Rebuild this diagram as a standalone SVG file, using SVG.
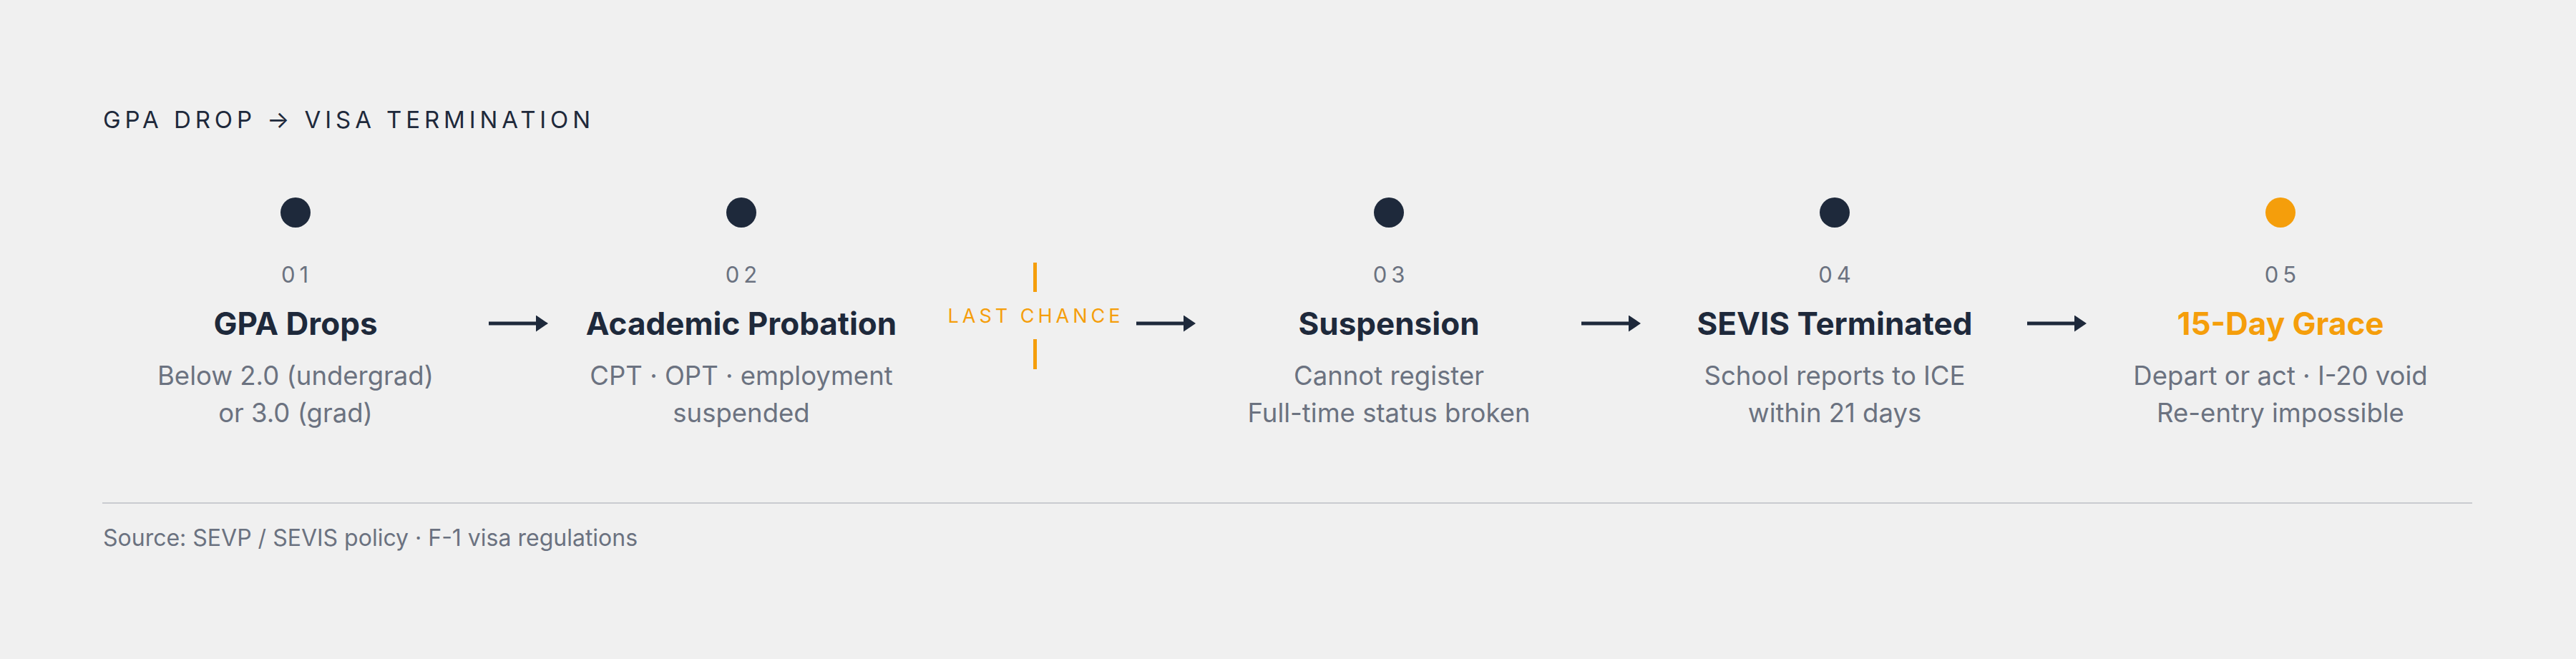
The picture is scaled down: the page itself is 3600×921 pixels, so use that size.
<svg xmlns="http://www.w3.org/2000/svg" width="3600" height="921" viewBox="0 0 3600 921">
  <defs>
    <style>
      text { font-family: "Inter", "Liberation Sans", sans-serif; }
      .heading { font-size: 33px; fill: #1e293b; letter-spacing: 5.9px; }
      .num { font-size: 31px; fill: #6b7280; letter-spacing: 6px; text-anchor: middle; }
      .title { font-size: 44px; font-weight: 700; fill: #1e293b; text-anchor: middle; }
      .title.hot { fill: #f59e0b; }
      .desc { font-size: 36.5px; fill: #6b7280; text-anchor: middle; }
      .dot { fill: #1e293b; }
      .dot.hot { fill: #f59e0b; }
      .flag { font-size: 27px; fill: #f59e0b; letter-spacing: 5px; text-anchor: middle; }
      .tick { stroke: #f59e0b; stroke-width: 5; }
      .conn { stroke: #1e293b; stroke-width: 5; fill: none; }
      .source { font-size: 32px; fill: #6b7280; }
    </style>
    <marker id="arrow" viewBox="0 0 17 23" refX="1" refY="11.5" markerWidth="17" markerHeight="23" markerUnits="userSpaceOnUse" orient="auto">
      <path d="M0,0 L17,11.5 L0,23 Z" fill="#1e293b"/>
    </marker>
  </defs>

  <rect x="0" y="0" width="3600" height="921" fill="#f0f0f0"/>

  <text id="heading" class="heading" x="144" y="179">GPA DROP → VISA TERMINATION</text>

  <g id="step-01">
    <circle class="dot" cx="413" cy="297" r="21"/>
    <text class="num" x="415" y="395">01</text>
    <text class="title" x="413" y="468">GPA Drops</text>
    <text class="desc" x="413" y="538">Below 2.0 (undergrad)</text>
    <text class="desc" x="413" y="590">or 3.0 (grad)</text>
  </g>

  <g id="step-02">
    <circle class="dot" cx="1036" cy="297" r="21"/>
    <text class="num" x="1039" y="395">02</text>
    <text class="title" x="1036" y="468">Academic Probation</text>
    <text class="desc" x="1036" y="538">CPT · OPT · employment</text>
    <text class="desc" x="1036" y="590">suspended</text>
  </g>

  <g id="last-chance">
    <line class="tick" x1="1446.5" y1="367" x2="1446.5" y2="408"/>
    <text class="flag" x="1447.5" y="451">LAST CHANCE</text>
    <line class="tick" x1="1446.5" y1="474" x2="1446.5" y2="516"/>
  </g>

  <g id="step-03">
    <circle class="dot" cx="1941" cy="297" r="21"/>
    <text class="num" x="1944" y="395">03</text>
    <text class="title" x="1941" y="468">Suspension</text>
    <text class="desc" x="1941" y="538">Cannot register</text>
    <text class="desc" x="1941" y="590">Full-time status broken</text>
  </g>

  <g id="step-04">
    <circle class="dot" cx="2564" cy="297" r="21"/>
    <text class="num" x="2567" y="395">04</text>
    <text class="title" x="2564" y="468">SEVIS Terminated</text>
    <text class="desc" x="2564" y="538">School reports to ICE</text>
    <text class="desc" x="2564" y="590">within 21 days</text>
  </g>

  <g id="step-05">
    <circle class="dot hot" cx="3187" cy="297" r="21"/>
    <text class="num" x="3190" y="395">05</text>
    <text class="title hot" x="3187" y="468">15-Day Grace</text>
    <text class="desc" x="3187" y="538">Depart or act · I-20 void</text>
    <text class="desc" x="3187" y="590">Re-entry impossible</text>
  </g>

  <g id="connectors">
    <line class="conn" x1="683" y1="452" x2="750" y2="452" marker-end="url(#arrow)"/>
    <line class="conn" x1="1588" y1="452" x2="1655" y2="452" marker-end="url(#arrow)"/>
    <line class="conn" x1="2210" y1="452" x2="2277" y2="452" marker-end="url(#arrow)"/>
    <line class="conn" x1="2833" y1="452" x2="2900" y2="452" marker-end="url(#arrow)"/>
  </g>

  <g id="footer">
    <line x1="143" y1="703" x2="3455" y2="703" stroke="#c9cbd0" stroke-width="2"/>
    <text class="source" x="144" y="763">Source: SEVP / SEVIS policy · F-1 visa regulations</text>
  </g>
</svg>
